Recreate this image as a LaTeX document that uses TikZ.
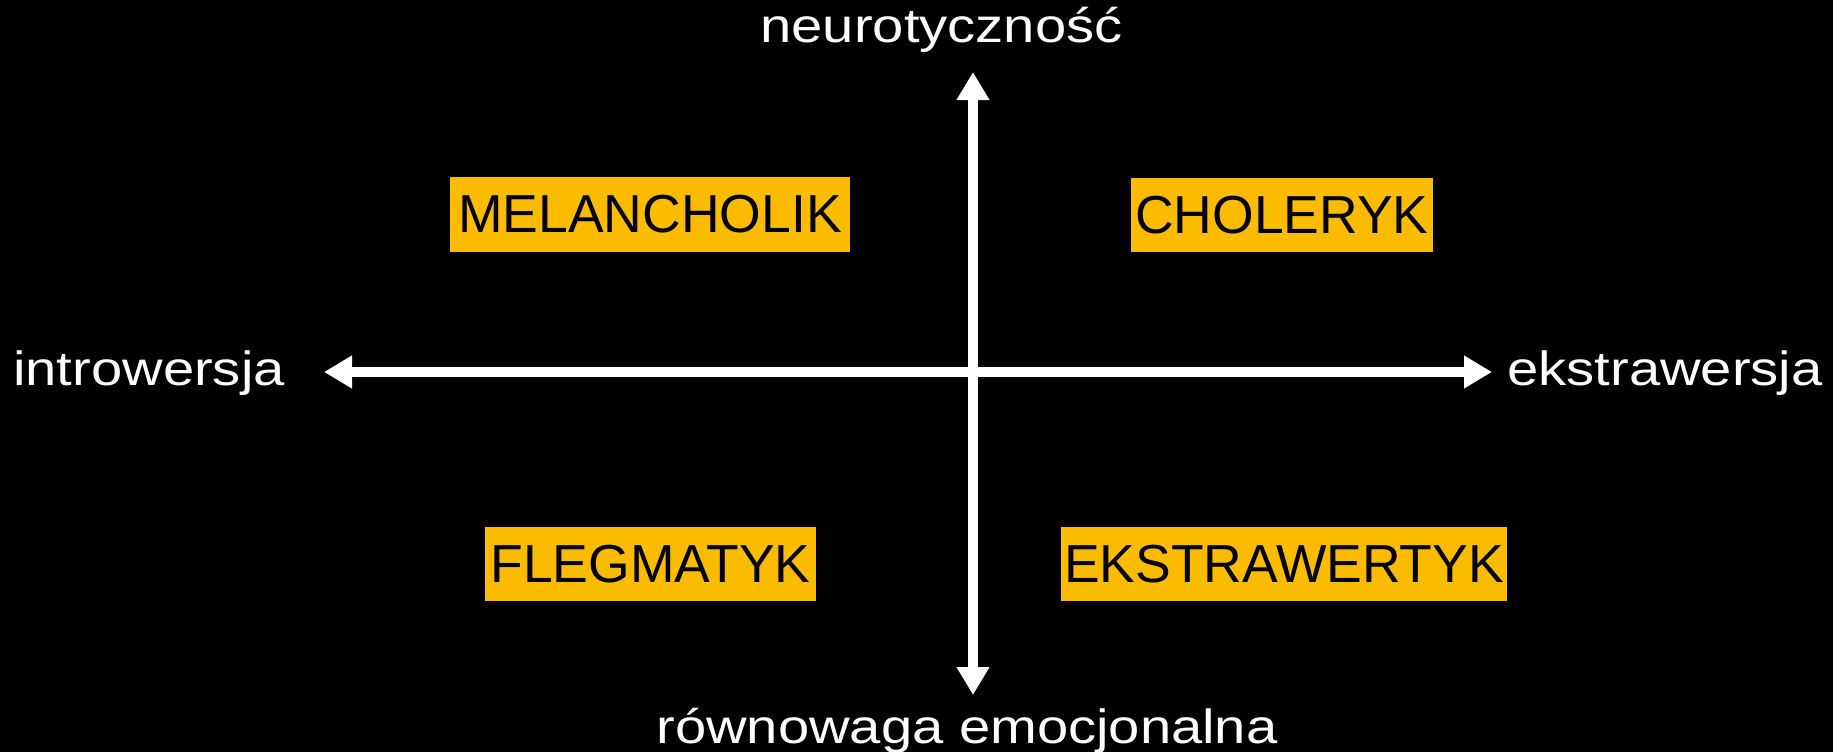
\documentclass[tikz,border=0pt]{standalone}
\usepackage{fontspec}
\usepackage{graphicx}
\setmainfont{Liberation Sans}
\usetikzlibrary{arrows.meta}
\definecolor{boxorange}{HTML}{FBBC00}
\tikzset{
  typebox/.style={fill=boxorange, text=black, inner sep=0pt, font=\fontsize{53.5}{60}\selectfont, anchor=center},
  axislabel/.style={text=white, inner sep=0pt, anchor=base, font=\fontsize{48}{54}\selectfont},
  axis/.style={draw=white, line width=10.5pt, {Triangle[length=28pt,width=31pt]}-{Triangle[length=28pt,width=31pt]}}
}
\newcommand{\stretchlbl}[1]{\scalebox{1.17}[1]{#1}}
\begin{document}
\begin{tikzpicture}[x=1pt,y=-1pt]
\fill[black] (0,0) rectangle (1833,752);
\useasboundingbox (0,0) rectangle (1833,752);
% axis ends
\coordinate (L) at (324,372);
\coordinate (R) at (1492,372);
\coordinate (T) at (973,72);
\coordinate (B) at (973,695);
\draw[axis] (T) -- (B);
\draw[axis] (L) -- (R);
% type boxes
\node[typebox, minimum width=400pt, minimum height=75pt] (mel) at (650,214.5) {MELANCHOLIK};
\node[typebox, minimum width=302pt, minimum height=74pt] (cho) at (1282,215) {CHOLERYK};
\node[typebox, minimum width=331pt, minimum height=74pt] (fle) at (650.5,564) {FLEGMATYK};
\node[typebox, minimum width=446pt, minimum height=74pt] (eks) at (1284,564) {EKSTRAWERTYK};
% axis labels
\node[axislabel] (neu) at (941.5,43) {\stretchlbl{neurotyczność}};
\node[axislabel] (intro) at (149,385) {\stretchlbl{introwersja}};
\node[axislabel] (ekstra) at (1665,385) {\stretchlbl{ekstrawersja}};
\node[axislabel] (rown) at (967,743) {\stretchlbl{równowaga emocjonalna}};
\end{tikzpicture}
\end{document}
